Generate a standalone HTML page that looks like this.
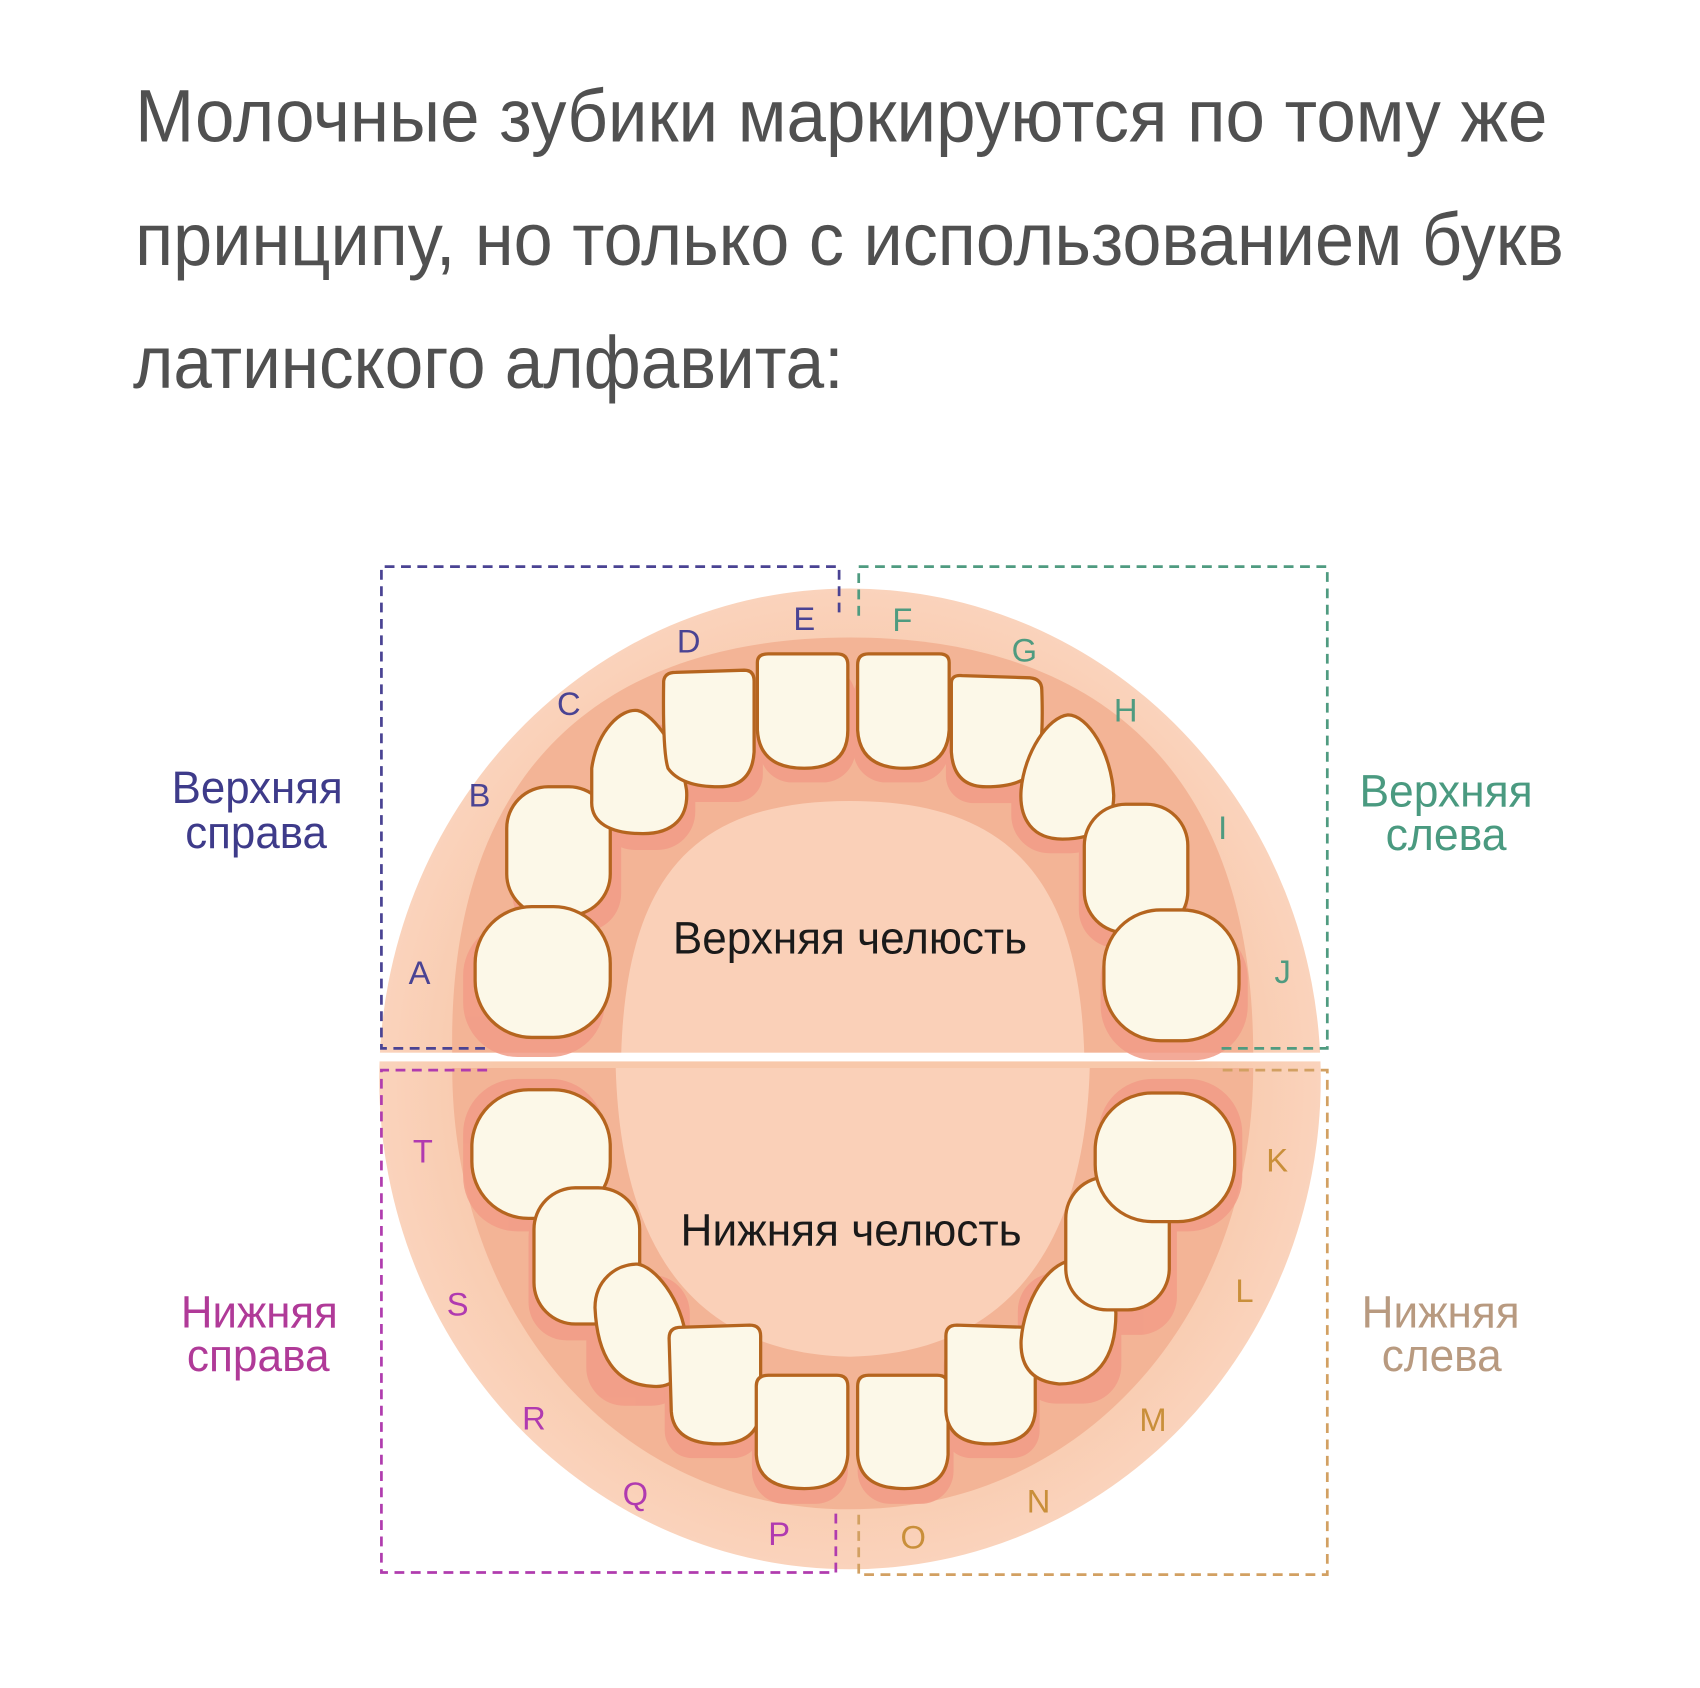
<!DOCTYPE html>
<html><head><meta charset="utf-8"><style>
html,body{margin:0;padding:0;background:#fff;width:1700px;height:1688px;overflow:hidden}
svg{display:block}
</style></head><body>
<svg width="1700" height="1688" viewBox="0 0 1560 1549" xmlns="http://www.w3.org/2000/svg">
<defs>
<radialGradient id="outer" cx="50%" cy="50%" r="50%">
<stop offset="0.75" stop-color="#f8c8aa"/><stop offset="1" stop-color="#fad3bc"/>
</radialGradient>
</defs>
<g font-family="Liberation Sans, sans-serif" fill="#505050" font-size="68">
<text x="124" y="130" textLength="1296" lengthAdjust="spacingAndGlyphs">Молочные зубики маркируются по тому же</text>
<text x="124" y="243" textLength="1311" lengthAdjust="spacingAndGlyphs">принципу, но только с использованием букв</text>
<text x="122" y="356" textLength="652" lengthAdjust="spacingAndGlyphs">латинского алфавита:</text>
</g>

<ellipse cx="780" cy="990" rx="432" ry="450" fill="url(#outer)"/>
<path d="M415 968 C410 700 560 585 780 585 C1000 585 1150 700 1150 968 Z" fill="#f3b496"/>
<path d="M570 968 C575 800 640 735 780 735 C920 735 990 800 995 968 Z" fill="#fad0b8"/>
<path d="M415 980 C415 1200 560 1385 780 1385 C1000 1385 1150 1200 1150 980 Z" fill="#f3b496"/>
<path d="M565 980 C570 1150 640 1242 780 1245 C920 1242 995 1150 1000 980 Z" fill="#fad0b8"/>
<rect x="340" y="966" width="880" height="8" fill="#fff"/>

<g fill="#f29c87" opacity="0.85">
<rect x="425" y="845" width="130" height="125" rx="50"/>
<rect x="470" y="735" width="100" height="120" rx="35"/>
<rect x="548" y="665" width="90" height="115" rx="35"/>
<rect x="612" y="628" width="88" height="108" rx="25"/>
<rect x="697" y="610" width="88" height="108" rx="30"/>
<rect x="783" y="610" width="88" height="108" rx="30"/>
<rect x="868" y="632" width="88" height="105" rx="25"/>
<rect x="928" y="668" width="90" height="115" rx="35"/>
<rect x="990" y="750" width="100" height="120" rx="35"/>
<rect x="1010" y="848" width="135" height="125" rx="50"/>
<rect x="425" y="990" width="130" height="140" rx="50"/>
<rect x="485" y="1100" width="100" height="130" rx="35"/>
<rect x="538" y="1170" width="95" height="120" rx="35"/>
<rect x="610" y="1228" width="88" height="110" rx="25"/>
<rect x="690" y="1272" width="88" height="108" rx="30"/>
<rect x="787" y="1272" width="88" height="108" rx="30"/>
<rect x="866" y="1228" width="88" height="110" rx="25"/>
<rect x="934" y="1168" width="95" height="120" rx="35"/>
<rect x="980" y="1095" width="100" height="130" rx="35"/>
<rect x="1008" y="990" width="132" height="140" rx="50"/>
</g>

<g fill="#fcf8e8" stroke="#b5651f" stroke-width="3">
<rect x="465" y="722" width="95" height="118" rx="38"/>
<path d="M543 705 C548 670 570 650 585 652 C600 655 625 690 630 725 C632 750 618 765 590 765 C560 765 542 755 543 735 Z"/>
<path d="M609 625 Q610 617 620 617 L683 615 Q692 615 692 625 L692 690 Q690 722 660 722 Q625 722 613 705 Q608 690 609 625 Z"/>
<path d="M695 608 Q695 600 705 600 L768 600 Q778 600 778 610 L778 670 Q778 705 738 705 Q697 705 695 670 Z"/>
<path d="M787 610 Q787 600 797 600 L862 600 Q871 600 871 608 L871 670 Q869 705 830 705 Q789 705 787 670 Z"/>
<path d="M873 627 Q873 619 883 620 L945 622 Q956 623 956 633 Q958 690 950 705 Q940 722 905 722 Q875 722 873 690 Z"/>
<path d="M937 725 C940 690 962 658 980 656 C998 656 1020 690 1022 730 C1022 758 1005 770 975 770 C948 770 935 752 937 725 Z"/>
<rect x="995" y="738" width="95" height="118" rx="38"/>
<rect x="436" y="832" width="124" height="120" rx="52"/>
<rect x="1013" y="835" width="124" height="120" rx="52"/>
<rect x="433" y="1000" width="127" height="118" rx="52"/>
<rect x="490" y="1090" width="97" height="125" rx="38"/>
<path d="M546 1200 C546 1175 565 1160 585 1160 C600 1162 625 1190 630 1230 C632 1258 620 1275 597 1272 C565 1270 548 1245 546 1200 Z"/>
<path d="M614 1228 Q614 1218 625 1218 L688 1216 Q698 1216 698 1226 L698 1295 Q695 1325 660 1325 Q618 1325 616 1295 Z"/>
<path d="M694 1272 Q694 1262 705 1262 L768 1262 Q778 1262 778 1272 L778 1335 Q776 1366 738 1366 Q696 1366 694 1335 Z"/>
<path d="M787 1272 Q787 1262 797 1262 L860 1262 Q870 1262 870 1272 L870 1335 Q868 1366 830 1366 Q789 1366 787 1335 Z"/>
<path d="M868 1226 Q868 1216 878 1216 L940 1218 Q950 1218 950 1228 L950 1295 Q948 1325 908 1325 Q870 1325 868 1295 Z"/>
<path d="M937 1230 C940 1192 962 1160 982 1157 C1002 1158 1022 1178 1024 1205 C1024 1248 1005 1270 972 1270 C948 1268 936 1255 937 1230 Z"/>
<rect x="978" y="1080" width="95" height="122" rx="38"/>
<rect x="1005" y="1003" width="128" height="118" rx="52"/>
</g>

<g fill="none" stroke-width="2.5" stroke-dasharray="9 6">
<path d="M445 962 H350 V520 H770 V568" stroke="#4a4393"/>
<path d="M788 565 V520 H1218 V962 H1120" stroke="#4f9b80"/>
<path d="M447 982 H350 V1443 H767 V1385" stroke="#b03cae"/>
<path d="M1122 982 H1218 V1445 H788 V1390" stroke="#d2a062"/>
</g>

<g font-family="Liberation Sans, sans-serif" font-size="42" text-anchor="middle">
<text x="236" y="737" fill="#3e3b8a" textLength="157" lengthAdjust="spacingAndGlyphs">Верхняя</text>
<text x="235" y="778" fill="#3e3b8a" textLength="130" lengthAdjust="spacingAndGlyphs">справа</text>
<text x="1327" y="740" fill="#4a9a80" textLength="159" lengthAdjust="spacingAndGlyphs">Верхняя</text>
<text x="1327" y="780" fill="#4a9a80" textLength="111" lengthAdjust="spacingAndGlyphs">слева</text>
<text x="238" y="1218" fill="#b03a98" textLength="144" lengthAdjust="spacingAndGlyphs">Нижняя</text>
<text x="237" y="1258" fill="#b03a98" textLength="131" lengthAdjust="spacingAndGlyphs">справа</text>
<text x="1322" y="1218" fill="#b89a80" textLength="145" lengthAdjust="spacingAndGlyphs">Нижняя</text>
<text x="1323" y="1258" fill="#b89a80" textLength="110" lengthAdjust="spacingAndGlyphs">слева</text>
<text x="780" y="875" fill="#1a1a1a" textLength="325" lengthAdjust="spacingAndGlyphs">Верхняя челюсть</text>
<text x="781" y="1143" fill="#1a1a1a" textLength="313" lengthAdjust="spacingAndGlyphs">Нижняя челюсть</text>
</g>

<g font-family="Liberation Sans, sans-serif" font-size="30" text-anchor="middle">
<g fill="#4a4393">
<text x="385" y="903">A</text><text x="440" y="740">B</text><text x="522" y="656">C</text><text x="632" y="599">D</text><text x="738" y="578">E</text>
</g>
<g fill="#4f9b80">
<text x="828" y="579">F</text><text x="940" y="607">G</text><text x="1033" y="662">H</text><text x="1122" y="770">I</text><text x="1177" y="902">J</text>
</g>
<g fill="#c98f3a">
<text x="1172" y="1075">K</text><text x="1142" y="1195">L</text><text x="1058" y="1313">M</text><text x="953" y="1388">N</text><text x="838" y="1421">O</text>
</g>
<g fill="#b03ab0">
<text x="715" y="1418">P</text><text x="583" y="1381">Q</text><text x="490" y="1312">R</text><text x="420" y="1207">S</text><text x="388" y="1067">T</text>
</g>
</g>
</svg>
</body></html>
